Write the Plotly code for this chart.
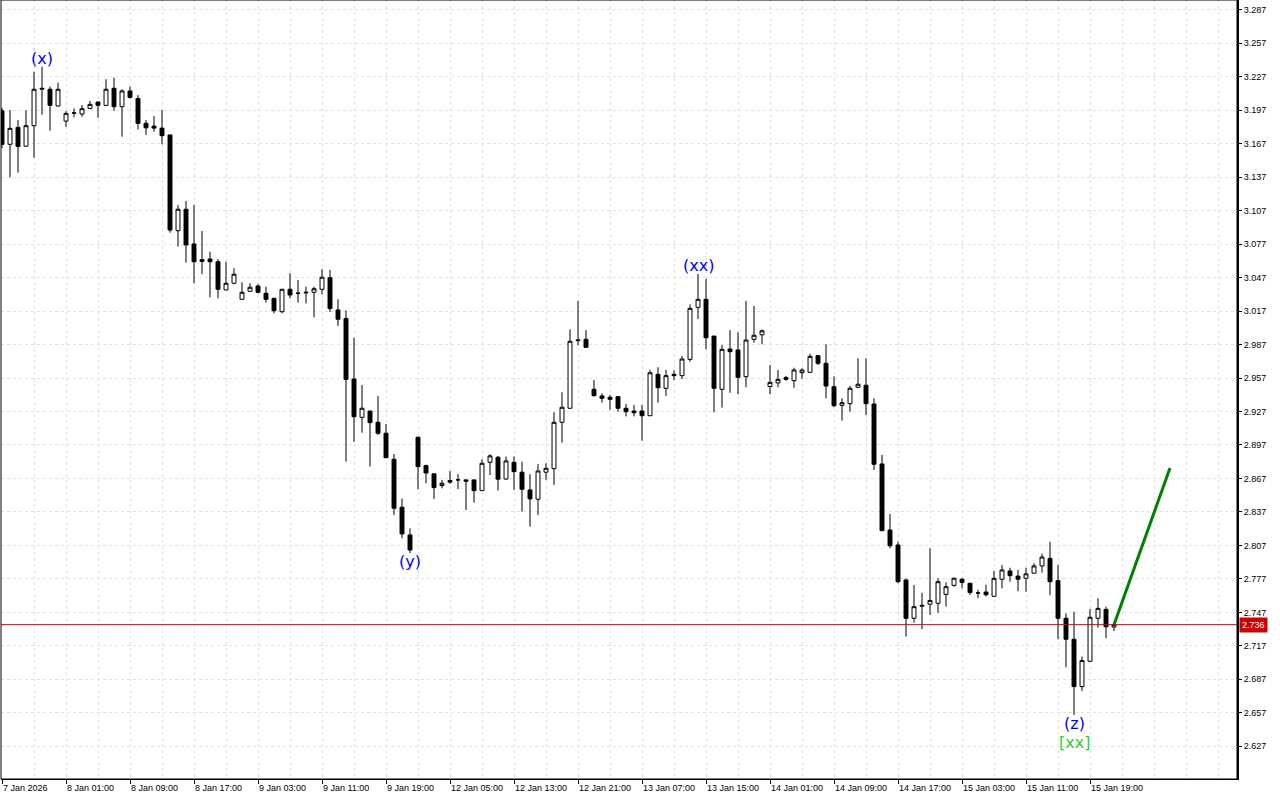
import plotly.graph_objects as go

# ---- data (hourly bars) ----
opens = [3.1964, 3.1664, 3.1816, 3.1647, 3.1831, 3.2157, 3.2157, 3.2007, 3.1872, 3.1943,
         3.1935, 3.1986, 3.2043, 3.2013, 3.2166, 3.2001, 3.2142, 3.2074, 3.1852, 3.1827,
         3.1809, 3.1748, 3.0890, 3.1082, 3.0771, 3.0630, 3.0636, 3.0612, 3.0359, 3.0419,
         3.0275, 3.0347, 3.0395, 3.0329, 3.0284, 3.0164, 3.0365, 3.0329, 3.0332, 3.0338,
         3.0365, 3.0469, 3.0180, 3.0104, 2.9561, 2.9218, 2.9274, 2.9173, 2.9075, 2.8842,
         2.8412, 2.8164, 2.9039, 2.8785, 2.8711, 2.8606, 2.8651, 2.8657, 2.8657, 2.8657,
         2.8561, 2.8815, 2.8860, 2.8665, 2.8815, 2.8726, 2.8567, 2.8484, 2.8726, 2.8758,
         2.9173, 2.9299, 2.9905, 2.9917, 2.9469, 2.9409, 2.9397, 2.9403, 2.9299, 2.9274,
         2.9274, 2.9232, 2.9603, 2.9478, 2.9603, 2.9591, 2.9737, 3.0203, 3.0275, 2.9946,
         2.9469, 2.9830, 2.9821, 2.9582, 2.9917, 2.9957, 2.9494, 2.9526, 2.9573, 2.9546,
         2.9618, 2.9621, 2.9770, 2.9702, 2.9492, 2.9325, 2.9340, 2.9487, 2.9505, 2.9337,
         2.8800, 2.8208, 2.8074, 2.7760, 2.7417, 2.7533, 2.7544, 2.7552, 2.7631, 2.7712,
         2.7767, 2.7731, 2.7643, 2.7652, 2.7614, 2.7767, 2.7841, 2.7795, 2.7776, 2.7821,
         2.7886, 2.7954, 2.7754, 2.7417, 2.7229, 2.6805, 2.7032, 2.7417, 2.7497, 2.7339]
highs = [3.1990, 3.1971, 3.1881, 3.1970, 3.2315, 3.2360, 3.2181, 3.2216, 3.1962, 3.1986,
         3.2016, 3.2052, 3.2045, 3.2247, 3.2261, 3.2157, 3.2181, 3.2105, 3.1881, 3.1917,
         3.1971, 3.1750, 3.1120, 3.1156, 3.1120, 3.0887, 3.0702, 3.0636, 3.0612, 3.0554,
         3.0428, 3.0419, 3.0410, 3.0388, 3.0290, 3.0367, 3.0509, 3.0449, 3.0388, 3.0388,
         3.0545, 3.0539, 3.0276, 3.0176, 2.9931, 2.9507, 2.9276, 2.9409, 2.9158, 2.8889,
         2.8490, 2.8223, 2.9045, 2.8794, 2.8712, 2.8657, 2.8737, 2.8708, 2.8660, 2.8660,
         2.8842, 2.8887, 2.8872, 2.8866, 2.8866, 2.8820, 2.8708, 2.8800, 2.8806, 2.9263,
         2.9442, 3.0006, 3.0260, 2.9999, 2.9552, 2.9433, 2.9418, 2.9406, 2.9337, 2.9328,
         2.9328, 2.9642, 2.9666, 2.9642, 2.9639, 2.9767, 3.0230, 3.0502, 3.0457, 2.9946,
         2.9866, 2.9999, 2.9979, 3.0260, 3.0215, 3.0006, 2.9686, 2.9642, 2.9588, 2.9662,
         2.9657, 2.9788, 2.9773, 2.9872, 2.9585, 2.9388, 2.9498, 2.9746, 2.9746, 2.9388,
         2.8881, 2.8351, 2.8103, 2.7775, 2.7715, 2.7645, 2.8044, 2.7775, 2.7739, 2.7781,
         2.7776, 2.7731, 2.7673, 2.7718, 2.7841, 2.7894, 2.7870, 2.7850, 2.7870, 2.7910,
         2.7996, 2.8103, 2.7894, 2.7461, 2.7476, 2.7074, 2.7500, 2.7596, 2.7521, 2.7362]
lows = [3.1630, 3.1368, 3.1409, 3.1645, 3.1544, 3.1929, 3.1785, 3.2005, 3.1821, 3.1906,
        3.1911, 3.1978, 3.1902, 3.2010, 3.1965, 3.1732, 3.2074, 3.1798, 3.1749, 3.1777,
        3.1664, 3.0872, 3.0747, 3.0603, 3.0419, 3.0500, 3.0293, 3.0284, 3.0357, 3.0410,
        3.0273, 3.0345, 3.0329, 3.0245, 3.0150, 3.0150, 3.0284, 3.0245, 3.0239, 3.0114,
        3.0320, 3.0162, 3.0037, 2.8820, 2.8999, 2.9080, 2.8776, 2.9060, 2.8855, 2.8343,
        2.8134, 2.8000, 2.8573, 2.8627, 2.8487, 2.8581, 2.8624, 2.8575, 2.8387, 2.8454,
        2.8560, 2.8701, 2.8561, 2.8657, 2.8567, 2.8372, 2.8238, 2.8343, 2.8657, 2.8612,
        2.8991, 2.9297, 2.9863, 2.9843, 2.9403, 2.9349, 2.9285, 2.9268, 2.9226, 2.9226,
        2.9008, 2.9230, 2.9349, 2.9409, 2.9552, 2.9561, 2.9716, 3.0098, 2.9827, 2.9263,
        2.9305, 2.9438, 2.9424, 2.9487, 2.9886, 2.9872, 2.9424, 2.9487, 2.9546, 2.9483,
        2.9564, 2.9620, 2.9686, 2.9388, 2.9308, 2.9187, 2.9268, 2.9478, 2.9239, 2.8746,
        2.8200, 2.8044, 2.7730, 2.7253, 2.7378, 2.7320, 2.7447, 2.7467, 2.7521, 2.7700,
        2.7685, 2.7626, 2.7598, 2.7613, 2.7612, 2.7685, 2.7745, 2.7660, 2.7655, 2.7820,
        2.7826, 2.7624, 2.7229, 2.6978, 2.6550, 2.6766, 2.7030, 2.7333, 2.7238, 2.7302]
closes = [3.1664, 3.1807, 3.1644, 3.1831, 3.2157, 3.2165, 3.2013, 3.2157, 3.1941, 3.1945,
          3.1983, 3.2022, 3.2013, 3.2157, 3.2001, 3.2142, 3.2085, 3.1852, 3.1812, 3.1809,
          3.1741, 3.0896, 3.1082, 3.0762, 3.0612, 3.0615, 3.0612, 3.0365, 3.0419, 3.0500,
          3.0338, 3.0383, 3.0338, 3.0275, 3.0173, 3.0365, 3.0314, 3.0330, 3.0338, 3.0370,
          3.0473, 3.0192, 3.0097, 2.9558, 2.9223, 2.9299, 2.9170, 2.9075, 2.8856, 2.8403,
          2.8173, 2.8029, 2.8776, 2.8719, 2.8588, 2.8627, 2.8637, 2.8658, 2.8646, 2.8561,
          2.8806, 2.8872, 2.8663, 2.8827, 2.8731, 2.8573, 2.8487, 2.8737, 2.8761, 2.9173,
          2.9308, 2.9899, 2.9910, 2.9845, 2.9412, 2.9388, 2.9379, 2.9299, 2.9268, 2.9259,
          2.9232, 2.9617, 2.9483, 2.9591, 2.9591, 2.9740, 3.0194, 3.0275, 2.9931, 2.9478,
          2.9827, 2.9806, 2.9576, 2.9910, 2.9953, 2.9993, 2.9531, 2.9558, 2.9558, 2.9642,
          2.9642, 2.9764, 2.9702, 2.9498, 2.9322, 2.9349, 2.9478, 2.9514, 2.9340, 2.8797,
          2.8202, 2.8067, 2.7745, 2.7417, 2.7521, 2.7527, 2.7577, 2.7745, 2.7700, 2.7776,
          2.7738, 2.7647, 2.7644, 2.7628, 2.7775, 2.7850, 2.7799, 2.7767, 2.7815, 2.7886,
          2.7966, 2.7745, 2.7417, 2.7229, 2.6805, 2.7038, 2.7426, 2.7506, 2.7341, 2.7360]

time_labels = ["7 Jan 2026", "8 Jan 01:00", "8 Jan 09:00", "8 Jan 17:00", "9 Jan 03:00",
               "9 Jan 11:00", "9 Jan 19:00", "12 Jan 05:00", "12 Jan 13:00", "12 Jan 21:00",
               "13 Jan 07:00", "13 Jan 15:00", "14 Jan 01:00", "14 Jan 09:00", "14 Jan 17:00",
               "15 Jan 03:00", "15 Jan 11:00", "15 Jan 19:00"]
bars_per_label = 8

price_ticks = [2.627, 2.657, 2.687, 2.717, 2.747, 2.777, 2.807, 2.837, 2.867, 2.897, 2.927,
               2.957, 2.987, 3.017, 3.047, 3.077, 3.107, 3.137, 3.167, 3.197, 3.227, 3.257, 3.287]

current_price = 2.736

# projection line (bar index, price)
proj_bars = [139, 146]
proj_prices = [2.736, 2.8763]

# wave labels
wave_texts = ["(x)", "(y)", "(xx)", "(z)"]
wave_bars = [5, 51, 87, 134]
wave_side = ["high", "low", "high", "low"]
sub_text = "[xx]"
sub_bar = 134

idx = list(range(len(opens)))
tick_vals = [i * bars_per_label for i in range(len(time_labels))]

fig = go.Figure()
fig.add_trace(go.Candlestick(
    x=idx, open=opens, high=highs, low=lows, close=closes,
    increasing=dict(line=dict(color="black", width=1), fillcolor="white"),
    decreasing=dict(line=dict(color="black", width=1), fillcolor="black"),
    whiskerwidth=0, hoverinfo="skip", showlegend=False,
))
fig.add_trace(go.Scatter(
    x=proj_bars, y=proj_prices, mode="lines",
    line=dict(color="#008000", width=3), hoverinfo="skip", showlegend=False,
))

grid_color = "#e2e2e2"
tick_font = dict(family="Liberation Sans, Arial, sans-serif", size=9, color="black")

annotations = []
for t, b, s in zip(wave_texts, wave_bars, wave_side):
    annotations.append(dict(
        x=b, y=highs[b] if s == "high" else lows[b], xref="x", yref="y",
        text=t, showarrow=False, yanchor="bottom" if s == "high" else "top",
        yshift=-3 if s == "high" else 3,
        font=dict(family="DejaVu Sans", size=16, color="#0000FF"),
    ))
annotations.append(dict(
    x=sub_bar, y=lows[sub_bar], xref="x", yref="y", text=sub_text, showarrow=False,
    yanchor="top", yshift=-16,
    font=dict(family="DejaVu Sans", size=16, color="#32CD32"),
))
annotations.append(dict(
    x=1, xref="paper", y=current_price, yref="y", text=f"{current_price:.3f}",
    showarrow=False, xanchor="left", xshift=2, bgcolor="#CC0000", borderpad=2,
    font=dict(family="Liberation Sans, Arial, sans-serif", size=9, color="white"),
))

fig.update_layout(
    width=1280, height=800,
    margin=dict(l=1, r=43, t=0, b=21),
    paper_bgcolor="white", plot_bgcolor="white",
    showlegend=False,
    hovermode=False,
    annotations=annotations,
    shapes=[
        dict(type="line", xref="paper", x0=0, x1=1, yref="y", y0=current_price, y1=current_price,
             line=dict(color="#E00000", width=1), layer="above"),
        dict(type="rect", xref="paper", yref="paper", x0=0, x1=1, y0=0, y1=1,
             line=dict(color="black", width=1), layer="above"),
    ],
    xaxis=dict(
        range=[-0.125, 154.375], rangeslider=dict(visible=False),
        tickmode="array", tickvals=tick_vals, ticktext=time_labels,
        ticks="outside", ticklen=4, tickcolor="black", tickwidth=1,
        ticklabelposition="outside right", tickfont=tick_font,
        showgrid=True, gridcolor=grid_color, griddash="3px,3px", gridwidth=1,
        minor=dict(tickmode="linear", tick0=0, dtick=4, showgrid=True,
                   gridcolor=grid_color, griddash="3px,3px", gridwidth=1, ticks=""),
        showline=True, linecolor="black", linewidth=1, zeroline=False,
    ),
    yaxis=dict(
        side="right", range=[2.5977, 3.2957],
        tickmode="array", tickvals=price_ticks, tickformat=".3f",
        ticks="outside", ticklen=3, tickcolor="black", tickfont=tick_font,
        showgrid=True, gridcolor=grid_color, griddash="3px,3px", gridwidth=1,
        showline=True, linecolor="black", linewidth=2, zeroline=False,
    ),
)

fig.write_html(
    "out.html",
    config={"displayModeBar": False},
    post_script="document.body.style.margin='0';document.body.style.overflow='hidden';",
)
